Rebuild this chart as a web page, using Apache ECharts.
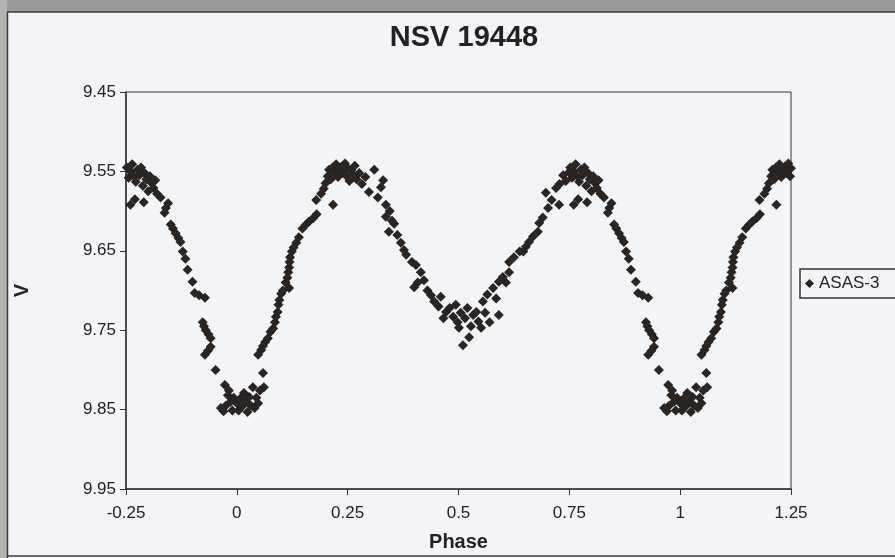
<!DOCTYPE html>
<html>
<head>
<meta charset="utf-8">
<script src="https://cdn.jsdelivr.net/npm/echarts@6/dist/echarts.min.js"></script>
<style>
html,body{margin:0;padding:0;background:#f2f4f7;}
#c{width:895px;height:558px;}
</style>
</head>
<body>
<div id="c"></div>
<script>
// Phase-folded light curve: base observations (phase 0..1) and V magnitudes
const phases = [
 0.000,0.004,0.008,0.012,0.016,0.020,0.024,0.028,0.032,0.036,0.040,0.044,0.048,0.052,0.059,0.061,
 0.048,0.055,0.059,0.064,0.070,0.076,0.082,0.086,0.088,0.092,0.094,0.096,0.100,0.104,0.118,0.110,0.114,0.116,0.118,0.119,0.120,0.124,0.128,0.134,0.140,0.148,0.156,0.163,0.172,0.180,0.179,0.217,0.190,0.196,
 0.200,0.205,0.208,0.212,0.216,0.220,0.224,0.228,0.232,0.236,0.240,0.244,0.248,0.250,0.254,0.258,0.262,0.266,0.270,0.276,0.282,0.290,0.298,0.310,0.318,0.330,
 0.325,0.336,0.336,0.345,0.350,0.355,0.343,0.362,0.370,0.377,0.382,0.395,0.404,0.415,0.400,0.408,0.422,0.430,0.438,0.445,0.455,0.460,0.472,0.466,0.480,0.494,0.488,0.498,0.501,0.510,
 0.505,0.515,0.520,0.524,0.528,0.533,0.540,0.545,0.551,0.555,0.560,0.565,0.570,
 0.578,0.585,0.591,0.591,0.600,0.607,0.614,0.614,0.625,0.638,0.646,0.652,0.659,0.668,0.679,0.682,0.690,0.702,0.727,0.697,0.710,0.720,0.728,0.736,0.742,0.749,
 0.752,0.756,0.760,0.764,0.768,0.772,0.776,0.780,0.784,0.788,0.792,0.796,0.800,0.804,0.808,0.812,0.816,0.820,0.790,0.828,0.760,0.770,
 0.840,0.837,0.845,0.851,0.856,0.862,0.868,0.873,0.878,0.884,0.889,0.900,0.905,0.915,0.928,0.923,0.926,0.930,0.936,0.941,0.941,0.935,0.928,0.952,0.973,0.980,0.964,0.986,0.975,0.990,0.993,0.970,0.982
];
const mags = [
 9.842,9.851,9.836,9.846,9.829,9.840,9.853,9.834,9.845,9.822,9.848,9.835,9.842,9.826,9.804,9.822,
 9.781,9.775,9.770,9.765,9.760,9.752,9.748,9.740,9.733,9.727,9.718,9.712,9.704,9.700,9.697,9.690,9.684,9.677,9.671,9.664,9.658,9.651,9.646,9.640,9.633,9.622,9.617,9.613,9.609,9.604,9.586,9.592,9.578,9.572,
 9.565,9.556,9.548,9.560,9.545,9.552,9.541,9.557,9.548,9.544,9.552,9.540,9.556,9.546,9.562,9.549,9.555,9.543,9.560,9.552,9.566,9.557,9.576,9.548,9.583,9.561,
 9.570,9.592,9.607,9.600,9.612,9.616,9.626,9.630,9.640,9.649,9.655,9.664,9.668,9.677,9.696,9.690,9.687,9.700,9.706,9.714,9.720,9.708,9.727,9.735,9.722,9.718,9.733,9.740,9.747,9.769,
 9.728,9.735,9.722,9.759,9.745,9.731,9.727,9.739,9.747,9.714,9.728,9.705,9.740,
 9.697,9.710,9.731,9.689,9.683,9.690,9.677,9.664,9.658,9.651,9.651,9.645,9.639,9.632,9.626,9.615,9.608,9.596,9.592,9.577,9.586,9.571,9.566,9.555,9.562,9.551,
 9.545,9.558,9.550,9.541,9.556,9.563,9.548,9.555,9.545,9.568,9.552,9.560,9.575,9.556,9.565,9.571,9.561,9.578,9.589,9.583,9.592,9.585,
 9.596,9.602,9.590,9.617,9.622,9.628,9.634,9.639,9.651,9.660,9.674,9.689,9.703,9.706,9.709,9.740,9.745,9.750,9.755,9.760,9.771,9.776,9.781,9.800,9.819,9.832,9.848,9.840,9.845,9.851,9.835,9.852,9.826
];
const xTicks = [-0.25, 0, 0.25, 0.5, 0.75, 1, 1.25];
const yTicks = [9.45, 9.55, 9.65, 9.75, 9.85, 9.95];
const seriesName = 'ASAS-3';
const titleText = 'NSV 19448';

// Folded plot repeats the cycle: phases 0.75..1 also shown at -0.25..0, and 0..0.25 at 1..1.25
const points = [];
for (let i = 0; i < phases.length; i++) {
  const p = phases[i], m = mags[i];
  points.push([p, m]);
  if (p >= 0.75) points.push([p - 1, m]);
  if (p <= 0.25) points.push([p + 1, m]);
}

const chart = echarts.init(document.getElementById('c'), null, {renderer: 'canvas'});
const font = 'Liberation Sans, Arial, sans-serif';
chart.setOption({
  backgroundColor: '#f2f4f7',
  animation: false,
  graphic: [
    {type: 'rect', shape: {x: 0, y: 0, width: 895, height: 12}, style: {fill: '#9c9a98'}},
    {type: 'rect', shape: {x: 0, y: 0, width: 7, height: 558}, style: {fill: '#b4b3b2'}},
    {type: 'line', shape: {x1: 7, y1: 12, x2: 895, y2: 12}, style: {stroke: '#3a3a3a', lineWidth: 1.5}},
    {type: 'line', shape: {x1: 7.5, y1: 12, x2: 7.5, y2: 558}, style: {stroke: '#3a3a3a', lineWidth: 1.5}},
    {type: 'line', shape: {x1: 7, y1: 556, x2: 895, y2: 556}, style: {stroke: '#3a3a3a', lineWidth: 1.5}}
  ],
  title: {
    text: titleText, left: 459, top: 18, textAlign: 'center',
    textStyle: {fontFamily: font, fontSize: 29, fontWeight: 'bold', color: '#222'}
  },
  legend: {
    data: [seriesName], left: 800, top: 269, orient: 'vertical',
    icon: 'diamond', itemWidth: 9, itemHeight: 9, itemGap: 4,
    borderColor: '#333', borderWidth: 1.5, padding: [6, 20, 6, 5],
    textStyle: {fontFamily: font, fontSize: 17, color: '#222', padding: [0, 0, 0, 0]}
  },
  grid: {left: 126, right: 104, top: 92, bottom: 69, show: true, borderColor: '#333', borderWidth: 1, backgroundColor: 'transparent'},
  xAxis: {
    type: 'value', min: -0.25, max: 1.25, interval: 0.25,
    name: 'Phase', nameLocation: 'middle', nameGap: 43,
    nameTextStyle: {fontFamily: font, fontSize: 20, fontWeight: 'bold', color: '#222'},
    axisLine: {onZero: false, lineStyle: {color: '#333', width: 1.5}},
    axisTick: {show: true, length: 6, lineStyle: {color: '#333'}},
    splitLine: {show: false},
    axisLabel: {fontFamily: font, fontSize: 17, color: '#222', margin: 16,
      customValues: xTicks, formatter: v => String(v)}
  },
  yAxis: {
    type: 'value', inverse: true, min: 9.45, max: 9.95,
    name: 'V', nameLocation: 'middle', nameGap: 94, nameRotate: 90,
    nameTextStyle: {fontFamily: font, fontSize: 20, fontWeight: 'bold', color: '#222'},
    axisLine: {show: true, onZero: false, lineStyle: {color: '#333', width: 1.5}},
    axisTick: {show: true, length: 6, lineStyle: {color: '#333'}, customValues: yTicks},
    splitLine: {show: false},
    axisLabel: {fontFamily: font, fontSize: 17, color: '#222', margin: 10,
      customValues: yTicks, formatter: v => v.toFixed(2)}
  },
  series: [{
    name: seriesName, type: 'scatter', data: points,
    symbol: 'diamond', symbolSize: 10,
    itemStyle: {color: '#2a2422', opacity: 1}
  }]
});
</script>
</body>
</html>
